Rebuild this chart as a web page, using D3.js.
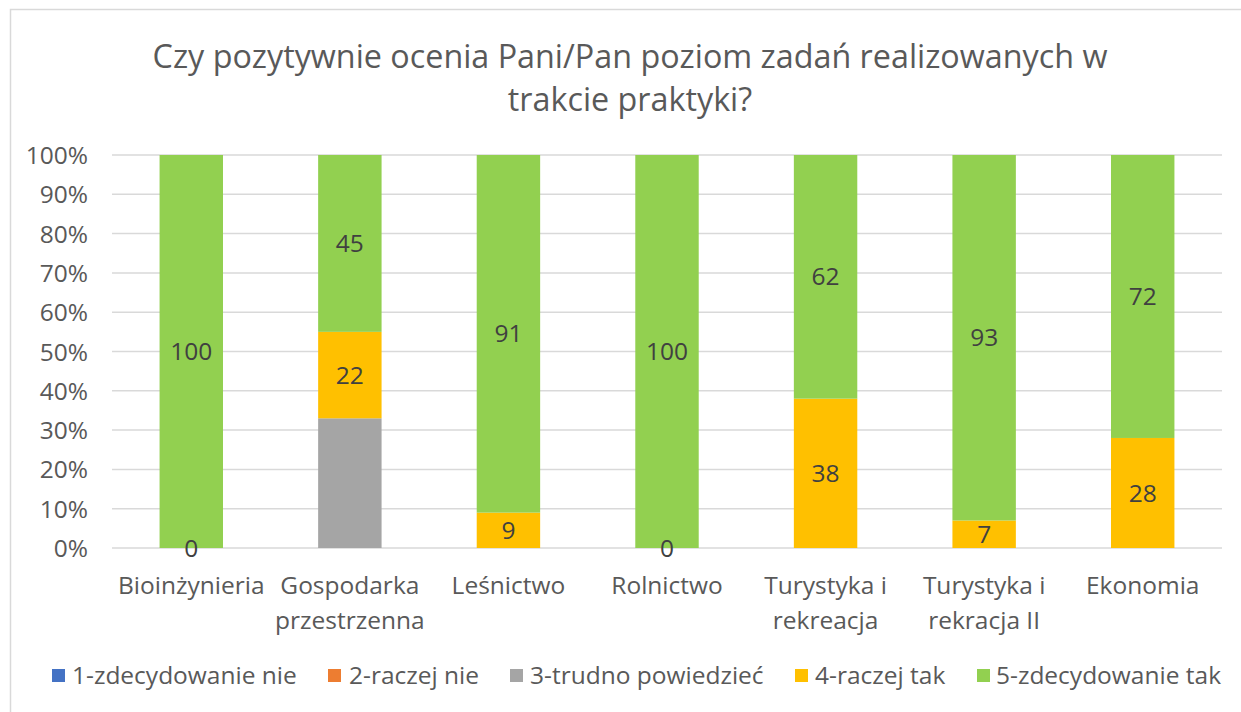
<!DOCTYPE html>
<html><head><meta charset="utf-8">
<script src="https://cdn.jsdelivr.net/npm/d3@7"></script>
<style>body{margin:0;background:#fff;} svg{display:block;}</style>
</head><body>
<script>
const categories = [["Bioinżynieria"],["Gospodarka","przestrzenna"],["Leśnictwo"],["Rolnictwo"],["Turystyka i","rekreacja"],["Turystyka i","rekracja II"],["Ekonomia"]];
const seriesNames = ["1-zdecydowanie nie","2-raczej nie","3-trudno powiedzieć","4-raczej tak","5-zdecydowanie tak"];
const s1 = [0,0,0,0,0,0,0];
const s2 = [0,0,0,0,0,0,0];
const s3 = [0,33,0,0,0,0,0];
const s4 = [0,22,9,0,38,7,28];
const s5 = [100,45,91,100,62,93,72];
const yTicks = [0,10,20,30,40,50,60,70,80,90,100];
const colors = ["#4472C4","#ED7D31","#A5A5A5","#FFC000","#92D050"];
const labelled = [false,false,false,true,true];
const title = ["Czy pozytywnie ocenia Pani/Pan poziom zadań realizowanych w","trakcie praktyki?"];

(function(){
const W=1241,H=712;
const font='"Open Sans", sans-serif';
const fs=24.5;
const svg=d3.select("body").append("svg").attr("width",W).attr("height",H);
svg.append("rect").attr("x",10.5).attr("y",9.5).attr("width",W+20).attr("height",H-8).attr("fill","#fff").attr("stroke","#D9D9D9").attr("stroke-width",1.5);

const pL=112,pR=1222,pT=155,pB=548;
const x=d3.scaleBand().domain(d3.range(categories.length)).range([pL,pR]).paddingInner(0.6).paddingOuter(0.3);
const y=d3.scaleLinear().domain([0,100]).range([pB,pT]);

svg.append("text").attr("x",630).attr("y",68).attr("text-anchor","middle").attr("fill","#595959")
 .attr("font-family",font).attr("font-size",32.3)
 .selectAll("tspan").data(title).join("tspan").attr("x",630).attr("y",(d,i)=>68+i*43).text(d=>d);

const g=svg.append("g");
g.selectAll("line.grid").data(yTicks).join("line").attr("x1",pL).attr("x2",pR)
 .attr("y1",d=>y(d)).attr("y2",d=>y(d)).attr("stroke","#D9D9D9").attr("stroke-width",1.5);
const yAxis=d3.axisLeft(y).tickValues(yTicks).tickFormat(d=>d+"%").tickSize(0).tickPadding(0);
const ya=svg.append("g").attr("transform",`translate(${88},0)`).call(yAxis);
ya.select(".domain").remove();
ya.selectAll("text").attr("font-family",font).attr("font-size",fs).attr("fill","#595959").attr("dy","0.35em");

const allSeries=[s1,s2,s3,s4,s5];
const rows=categories.map((c,i)=>{const o={i};allSeries.forEach((s,k)=>o["k"+k]=s[i]);return o;});
const stack=d3.stack().keys(allSeries.map((s,k)=>"k"+k)).offset(d3.stackOffsetExpand)(rows);

stack.forEach((layer,k)=>{
  svg.append("g").selectAll("rect").data(layer).join("rect")
   .attr("x",d=>x(d.data.i)).attr("width",x.bandwidth())
   .attr("y",d=>y(d[1]*100)).attr("height",d=>y(d[0]*100)-y(d[1]*100))
   .attr("fill",colors[k]);
});
stack.forEach((layer,k)=>{
  if(!labelled[k]) return;
  svg.append("g").selectAll("text").data(layer).join("text")
   .attr("x",d=>x(d.data.i)+x.bandwidth()/2)
   .attr("y",d=>y((d[0]+d[1])/2*100)).attr("dy","0.35em")
   .attr("text-anchor","middle").attr("font-family",font).attr("font-size",fs).attr("fill","#404040")
   .text(d=>allSeries[k][d.data.i]);
});

const xl=svg.append("g");
categories.forEach((c,i)=>{
  xl.append("text").attr("text-anchor","middle").attr("font-family",font).attr("font-size",fs).attr("fill","#595959")
   .selectAll("tspan").data(c).join("tspan").attr("x",x(i)+x.bandwidth()/2).attr("y",(d,j)=>594+j*35).text(d=>d);
});

const legSq=[52,328,510,795,977];
const legTx=[72,349,530,815,996];
const leg=svg.append("g");
seriesNames.forEach((n,k)=>{
  leg.append("rect").attr("x",legSq[k]).attr("y",669).attr("width",13).attr("height",13).attr("fill",colors[k]);
  leg.append("text").attr("x",legTx[k]).attr("y",675).attr("dy","0.35em").attr("font-family",font).attr("font-size",fs).attr("fill","#595959").text(n);
});
})();
</script>
</body></html>
